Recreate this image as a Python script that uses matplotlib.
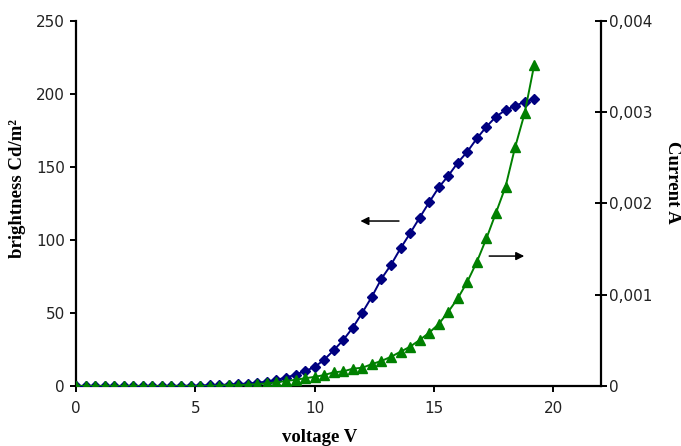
import matplotlib
matplotlib.use("Agg")
from matplotlib import pyplot as plt

# gerilim (V), 0.4 V adimlarla
voltage = [round(0.4 * i, 1) for i in range(49)]

# parlaklik (Cd/m2) - sol eksen
brightness = [0, 0, 0, 0, 0, 0, 0, 0, 0, 0,
              0.1, 0.1, 0.2, 0.3, 0.5, 0.7, 1.0, 1.3, 1.7, 2.2,
              3.0, 4.2, 5.8, 7.8, 10.2, 13.0, 18.0, 24.5, 31.5, 40.0,
              50.3, 61.2, 73.5, 83.0, 94.3, 104.6, 115.3, 125.8, 136.0, 144.0,
              153.0, 160.5, 169.6, 177.6, 184.5, 189.0, 191.8, 194.7, 196.4]

# akim (A) - sag eksen
current = [0, 0, 0, 0, 0, 0, 0, 0, 0, 0,
           0, 0, 0, 0, 0, 0.000005, 0.00001, 0.00001, 0.000015, 0.00002,
           0.00003, 0.00004, 0.000055, 0.000068, 0.000085, 0.0001, 0.00012, 0.00015, 0.00016, 0.00019,
           0.0002, 0.00024, 0.000275, 0.00032, 0.000376, 0.000431, 0.000504, 0.000584, 0.000679, 0.000814,
           0.000961, 0.001143, 0.001362, 0.001618, 0.001899, 0.002184, 0.002616, 0.002988, 0.003518]

x_ticks = [0, 5, 10, 15, 20]
left_ticks = [0, 50, 100, 150, 200, 250]
right_ticks = [0, 0.001, 0.002, 0.003, 0.004]
right_labels = ["0", "0,001", "0,002", "0,003", "0,004"]

blue = "#000080"
green = "#008000"
tick_col = "#222222"

fig = plt.figure(figsize=(6.81, 4.46), dpi=100)
ax = fig.add_axes([76 / 681, 1 - 386 / 446, 525 / 681, 365 / 446])
ax2 = ax.twinx()

ax.plot(voltage, brightness, color=blue, marker="D", markersize=5, linewidth=1.4, zorder=3)
ax2.plot(voltage, current, color=green, marker="^", markersize=6.5, linewidth=1.4, zorder=2)

ax.set_xlim(0, 22)
ax.set_ylim(0, 250)
ax2.set_ylim(0, 0.004)

ax.set_xticks(x_ticks)
ax.set_yticks(left_ticks)
ax2.set_yticks(right_ticks)
ax2.set_yticklabels(right_labels)

for a in (ax, ax2):
    a.spines["top"].set_visible(False)
    for s in a.spines.values():
        s.set_linewidth(1.6)
ax.spines["right"].set_visible(False)
ax2.spines["left"].set_visible(False)
ax2.spines["bottom"].set_visible(False)

ax.tick_params(axis="both", direction="out", length=4, width=1.4, labelsize=11,
               labelcolor=tick_col, pad=4)
ax.tick_params(axis="x", pad=7)
ax2.tick_params(axis="y", direction="inout", length=8, width=1.4, labelsize=11,
                labelcolor=tick_col, pad=2)

# oklar
ax.annotate("", xy=(11.8, 113), xytext=(13.65, 113),
            arrowprops=dict(arrowstyle="-|>", color="black", lw=1.1, mutation_scale=12))
ax.annotate("", xy=(18.9, 89), xytext=(17.2, 89),
            arrowprops=dict(arrowstyle="-|>", color="black", lw=1.1, mutation_scale=12))

serif = ["Liberation Serif", "DejaVu Serif"]
fig.text(320 / 681, 1 - 437 / 446, "voltage V", family=serif, fontweight="bold",
         fontsize=13.5, ha="center", va="center")
fig.text(18 / 681, 1 - 188 / 446, "brightness Cd/m²", family=serif,
         fontweight="bold", fontsize=13.5, ha="center", va="center", rotation=90)
fig.text(672 / 681, 1 - 182 / 446, "Current A", family=serif, fontweight="bold",
         fontsize=13.5, ha="center", va="center", rotation=270)

fig.savefig("out.png", dpi=100)
